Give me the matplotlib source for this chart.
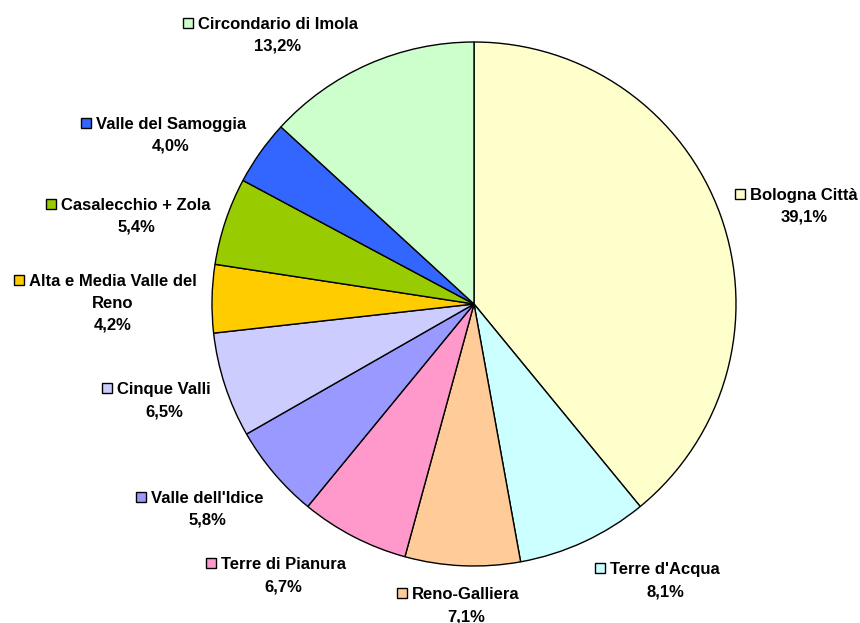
import matplotlib
matplotlib.use("Agg")
import matplotlib.pyplot as plt
from matplotlib.patches import Rectangle

categories = ["Bologna Città", "Terre d'Acqua", "Reno-Galliera", "Terre di Pianura",
              "Valle dell'Idice", "Cinque Valli", "Alta e Media Valle del\nReno",
              "Casalecchio + Zola", "Valle del Samoggia", "Circondario di Imola"]
values = [39.1, 8.1, 7.1, 6.7, 5.8, 6.5, 4.2, 5.4, 4.0, 13.2]
pct_labels = ["39,1%", "8,1%", "7,1%", "6,7%", "5,8%", "6,5%", "4,2%", "5,4%", "4,0%", "13,2%"]
colors = ["#FFFFCC", "#CCFFFF", "#FFCC99", "#FF99CC", "#9999FF", "#CCCCFF",
          "#FFCC00", "#99CC00", "#3366FF", "#CCFFCC"]

# label layout (pixel coords from top-left): text centre x, first line centre y
label_pos = [(804, 194), (665, 568.3), (465.8, 593.3), (283.3, 563.3), (207.5, 496.7),
             (164, 388.3), (113, 280), (136, 204), (170.7, 122.7), (278, 22.7)]

W, H = 860, 623
fig = plt.figure(figsize=(W / 100, H / 100), dpi=100)
ax = fig.add_axes([0, 0, 1, 1])

cx, cy, R = 474, 304, 262
ax.pie(values, colors=colors, startangle=90, counterclock=False,
       center=(cx, H - cy), radius=R,
       wedgeprops=dict(edgecolor="black", linewidth=1.0))
ax.set_xlim(0, W)
ax.set_ylim(0, H)
ax.set_aspect("equal")
ax.axis("off")

font = dict(family=["Liberation Sans", "DejaVu Sans"], weight="bold", size=12, color="black")
line_gap = 22
fig.canvas.draw()
renderer = fig.canvas.get_renderer()

for name, pct, col, (tx, ty) in zip(categories, pct_labels, colors, label_pos):
    lines = name.split("\n") + [pct]
    first = None
    for i, ln in enumerate(lines):
        y = ty + i * line_gap
        t = ax.text(tx, H - (y + 6), ln, ha="center", va="baseline", **font)
        if i == 0:
            first = t
    bb = first.get_window_extent(renderer=renderer)
    left = bb.x0
    sq = 10
    ax.add_patch(Rectangle((left - 5 - sq, H - ty - sq / 2), sq, sq,
                           facecolor=col, edgecolor="black", linewidth=1.0,
                           clip_on=False))

fig.savefig("out.png", dpi=100, facecolor="white")
